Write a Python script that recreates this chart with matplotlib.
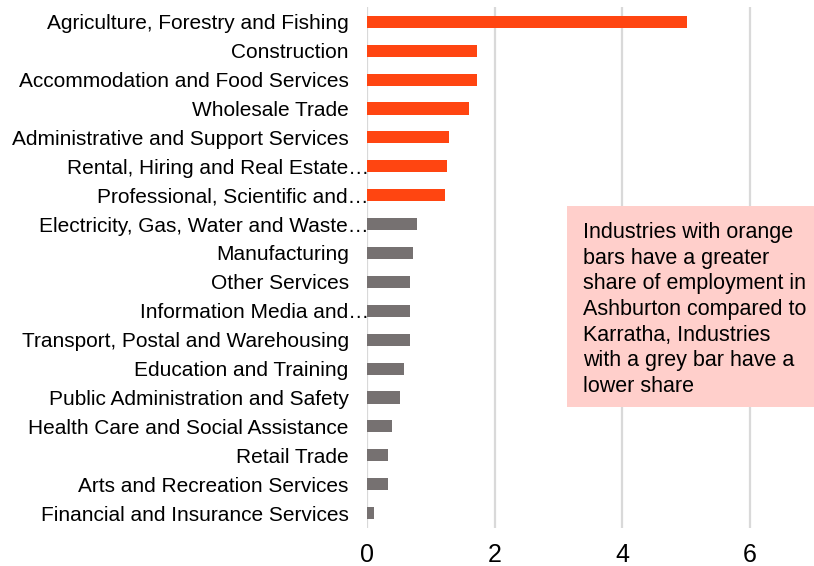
import numpy as np
import matplotlib.pyplot as plt
import matplotlib.transforms as mtransforms
from matplotlib.patches import Rectangle

plt.rcParams['font.family'] = ['Liberation Sans', 'DejaVu Sans']

industries = ['Agriculture, Forestry and Fishing', 'Construction',
              'Accommodation and Food Services', 'Wholesale Trade',
              'Administrative and Support Services',
              'Rental, Hiring and Real Estate\u2026',
              'Professional, Scientific and\u2026',
              'Electricity, Gas, Water and Waste\u2026', 'Manufacturing',
              'Other Services', 'Information Media and\u2026',
              'Transport, Postal and Warehousing', 'Education and Training',
              'Public Administration and Safety',
              'Health Care and Social Assistance', 'Retail Trade',
              'Arts and Recreation Services', 'Financial and Insurance Services']
ratio = [5.01, 1.73, 1.72, 1.60, 1.29, 1.25, 1.23, 0.79, 0.73, 0.67, 0.67,
         0.67, 0.58, 0.52, 0.39, 0.33, 0.33, 0.12]
xticks = [0, 2, 4, 6]

note = ('Industries with orange\nbars have a greater\nshare of employment in\n'
        'Ashburton compared to\nKarratha, Industries\nwith a grey bar have a\nlower share')

orange = '#FF4511'
grey = '#767171'
colors = [orange if r > 1 else grey for r in ratio]

fig = plt.figure(figsize=(8.14, 5.66), dpi=100)
ax = fig.add_axes([0.4505, 0.067, 0.5495, 0.921])

ypos = np.arange(len(industries))
ax.barh(ypos, ratio, height=0.42, color=colors, zorder=3)
ax.set_ylim(len(industries) - 0.48, -0.52)
ax.set_xlim(0, 7)
ax.set_xticks(xticks)
ax.set_xticklabels([str(t) for t in xticks], fontsize=18)
ax.set_yticks(ypos)
ax.set_yticklabels(industries, fontsize=15)
ax.tick_params(axis='x', length=0, pad=11)
ax.tick_params(axis='y', length=0, pad=13)
ax.grid(axis='x', color='#D9D9D9', linewidth=1.6, zorder=0)
for s in ax.spines.values():
    s.set_visible(False)

# truncated names let the ellipsis run into the gap before the axis
shift = mtransforms.ScaledTranslation(0.2, 0, fig.dpi_scale_trans)
for lab in ax.get_yticklabels():
    if lab.get_text().endswith('\u2026'):
        lab.set_transform(lab.get_transform() + shift)

# note box over the right side of the plot
fig.patches.append(Rectangle((567 / 814, 1 - 407 / 566), 247 / 814, 201 / 566,
                             transform=fig.transFigure, facecolor='#FFCFCB',
                             edgecolor='none', zorder=5))
fig.text(583 / 814, 1 - 222 / 566, note, fontsize=15.5, va='top', ha='left',
         linespacing=1.29, color='black', zorder=6)

fig.savefig('out.png', dpi=100)
